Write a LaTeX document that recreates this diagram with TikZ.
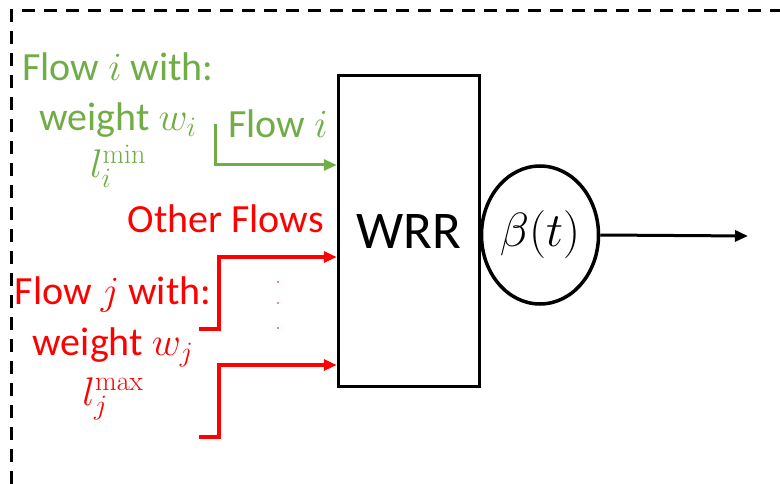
\RequirePackage{fix-cm}
\documentclass[tikz,border=0pt]{standalone}
\usepackage[no-math]{fontspec}
\setmainfont{Carlito}
\usetikzlibrary{arrows.meta,shapes.geometric}
\definecolor{gflow}{RGB}{112,173,71}
\definecolor{rflow}{RGB}{255,0,0}
\begin{document}
\begin{tikzpicture}[x=1pt,y=-1pt,
  lbl/.style={anchor=base,inner sep=0pt,font=\fontsize{40}{48}\selectfont},
  gl/.style={lbl,text=gflow},
  rl/.style={lbl,text=rflow},
  tip/.style={-{Triangle[length=13pt,width=11pt]}},
  garrow/.style={tip,draw=gflow,line width=3pt},
  rarrow/.style={tip,draw=rflow,line width=4pt},
  box/.style={draw=black,line width=3.5pt,minimum width=141pt,minimum height=311pt,inner sep=0pt,font=\fontsize{53}{60}\selectfont},
  server/.style={ellipse,draw=black,line width=3.5pt,minimum width=117pt,minimum height=138pt,inner sep=0pt,font=\fontsize{48}{56}\selectfont}
]
\useasboundingbox (0,0) rectangle (780,484);
% dashed border
\coordinate (bl) at (11,484);
\coordinate (tl) at (11,11);
\coordinate (tr) at (780,11);
\draw[line width=3pt,dash pattern=on 13pt off 9pt] (bl) -- (tl) -- (tr);

% WRR box and server
\node[box] (wrr) at (409,231) {WRR};
\node[server] (srv) at (540,235) {$\beta(t)$};
\coordinate (out) at (748,236);
\draw[line width=3pt,tip] (srv.east) -- (out);

% green flow i
\node[gl] (gi1) at (118,81) {Flow $i$ with:};
\node[gl] (gi2) at (118,131) {weight $w_i$};
\node[gl] (gi3) at (118,178) {$l_i^{\min}$};
\node[gl,anchor=base west] (gil) at (228,138) {Flow $i$};
\coordinate (gs) at (215,124);
\coordinate (gc) at (215,165);
\draw[garrow] (gs) -- (gc) -- (gc -| wrr.west);

% red flows
\node[rl,anchor=base east] (oth) at (324,233) {Other Flows};
\node[rl] (rj1) at (113,304) {Flow $j$ with:};
\node[rl] (rj2) at (113,355) {weight $w_j$};
\node[rl] (rj3) at (113,405) {$l_j^{\max}$};
\coordinate (r1s) at (199,329);
\coordinate (r1c) at (219,257);
\draw[rarrow] (r1s) -| (r1c) -- (r1c -| wrr.west);
\coordinate (r2s) at (199,437);
\coordinate (r2c) at (219,365);
\draw[rarrow] (r2s) -| (r2c) -- (r2c -| wrr.west);

% dots
\fill[rflow] (278,282) circle (0.8pt);
\fill[rflow] (278,303) circle (0.8pt);
\fill[rflow] (278,328) circle (0.8pt);
\end{tikzpicture}
\end{document}
